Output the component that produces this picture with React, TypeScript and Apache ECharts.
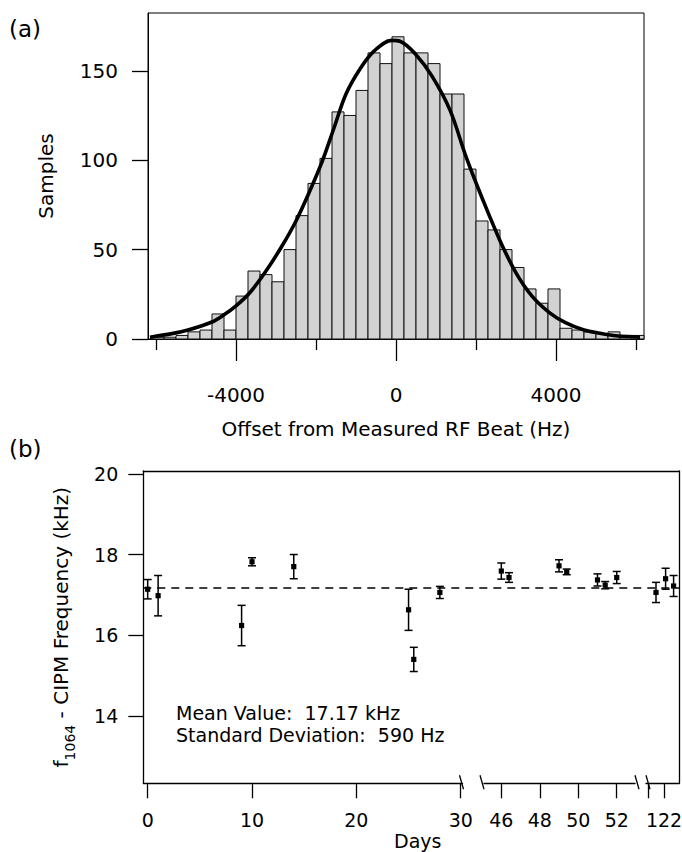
import React, { useEffect, useRef } from 'react';
import * as echarts from 'echarts';

// ---------- Panel (a): histogram ----------
const histCenters = [
  -5950, -5650, -5350, -5050, -4750, -4450, -4150, -3850, -3550, -3250, -2950,
  -2650, -2350, -2050, -1750, -1450, -1150, -850, -550, -250, 50, 350, 650, 950,
  1250, 1550, 1850, 2150, 2450, 2750, 3050, 3350, 3650, 3950, 4250, 4550, 4850,
  5150, 5450, 5750, 6050,
];
const histCounts = [
  1, 1, 2, 4, 5, 14, 5, 24, 38, 36, 32, 50, 69, 87, 101, 127, 125, 139, 160, 154,
  169, 160, 160, 154, 137, 137, 95, 66, 61, 50, 40, 28, 20, 28, 6, 5, 4, 3, 4, 2, 2,
];
const BIN_WIDTH = 300;

const fitX = [
  -6150, -5600, -5200, -4600, -4300, -4000, -3650, -3250, -2850, -2500, -2150,
  -1850, -1550, -1250, -900, -550, -100, 100, 500, 900, 1350, 1750, 2150, 2600,
  3000, 3400, 3850, 4250, 4700, 5100, 5500, 6100,
];
const fitY = [
  1.0, 3.0, 5.0, 9.5, 13.5, 18.5, 26, 38, 52, 66, 83, 99, 118, 137, 151, 161,
  167, 166.5, 159, 147, 128, 102, 79, 55, 37, 24, 14.5, 9, 5, 3.2, 1.8, 1.0,
];
const histXMajorTicks = [-4000, 0, 4000];
const histXMinorTicks = [-6000, -2000, 2000, 6000];
const histYTicks = [0, 50, 100, 150];

// ---------- Panel (b): frequency vs days ----------
const days = [0, 1, 9, 10, 14, 25, 25.5, 28, 46, 46.4, 49, 49.4, 51, 51.4, 52, 121.5, 122.1, 122.6];
const freqKHz = [17.14, 16.98, 16.24, 17.82, 17.7, 16.63, 15.4, 17.06, 17.59, 17.43, 17.72, 17.57, 17.37, 17.24, 17.43, 17.06, 17.4, 17.22];
const errKHz = [0.24, 0.5, 0.5, 0.1, 0.3, 0.51, 0.3, 0.15, 0.2, 0.12, 0.15, 0.07, 0.15, 0.09, 0.15, 0.25, 0.26, 0.26];
const MEAN_KHZ = 17.17;
const STD_HZ = 590;
const seg1Ticks = [0, 10, 20, 30];
const seg2Ticks = [46, 48, 50, 52];
const seg3Ticks = [121, 122];
const seg3Labels = [122];
const freqYTicks = [14, 16, 18, 20];

const FONT = 'DejaVu Sans';

export default function App() {
  const ref = useRef<HTMLDivElement>(null);

  useEffect(() => {
    document.body.style.margin = '0';
    const el = ref.current!;
    const chart = echarts.init(el, null, { renderer: 'svg' });

    // layout
    const A = { left: 148, top: 13, width: 496, height: 326 };
    const B = { top: 471, height: 312.3 };
    const B1 = { left: 143.3, width: 319.2 };
    const B2 = { left: 484, width: 151 };
    const B3 = { left: 646, width: 33.3 };
    const B0 = { left: 143.3, width: 536 };
    const axisY = B.top + B.height;
    const yMinB = 12.33, yMaxB = 20.07;

    const black = '#000';
    const plain = (v: number) => String(v);
    const lbl = (size: number, margin: number, extra: any = {}) => ({
      fontFamily: FONT, fontSize: size, color: black, margin, formatter: plain, ...extra,
    });
    const line = (w: number) => ({ show: true, onZero: false, lineStyle: { color: black, width: w } });

    const points = days.map((d, i) => [d, freqKHz[i], errKHz[i]]);
    const seg = (lo: number, hi: number) => points.filter((p) => p[0] >= lo && p[0] <= hi);

    const errRender = (params: any, api: any) => {
      const x = api.value(0), y = api.value(1), e = api.value(2);
      const pc = api.coord([x, y]);
      const ph = api.coord([x, y + e]);
      const pl = api.coord([x, y - e]);
      const cap = 4, s = 2.6;
      const st = { stroke: black, lineWidth: 1.5 };
      return {
        type: 'group',
        children: [
          { type: 'line', shape: { x1: pc[0], y1: ph[1], x2: pc[0], y2: pl[1] }, style: st },
          { type: 'line', shape: { x1: pc[0] - cap, y1: ph[1], x2: pc[0] + cap, y2: ph[1] }, style: st },
          { type: 'line', shape: { x1: pc[0] - cap, y1: pl[1], x2: pc[0] + cap, y2: pl[1] }, style: st },
          { type: 'rect', shape: { x: pc[0] - s, y: pc[1] - s, width: 2 * s, height: 2 * s }, style: { fill: black } },
        ],
      };
    };

    const slash = (x: number) => ({
      type: 'line',
      shape: { x1: x - 2, y1: axisY - 8, x2: x + 2, y2: axisY + 6 },
      style: { stroke: black, lineWidth: 1.3 },
    });

    const hiddenAxisCommon = { axisLine: { show: false, onZero: false }, axisTick: { show: false }, axisLabel: { show: false }, splitLine: { show: false } };

    const option: any = {
      animation: false,
      title: [
        { text: '(a)', left: 9, top: 17, padding: 0, textStyle: { fontFamily: FONT, fontSize: 23, fontWeight: 'normal', color: black } },
        { text: '(b)', left: 9, top: 437, padding: 0, textStyle: { fontFamily: FONT, fontSize: 23, fontWeight: 'normal', color: black } },
        {
          text: `Mean Value:  ${MEAN_KHZ} kHz\nStandard Deviation:  ${STD_HZ} Hz`,
          left: 176, top: 702, padding: 0,
          textStyle: { fontFamily: FONT, fontSize: 19, lineHeight: 22, fontWeight: 'normal', color: black },
        },
        { text: 'Days', left: 394, top: 831, padding: 0, textStyle: { fontFamily: FONT, fontSize: 19, fontWeight: 'normal', color: black } },
      ],
      grid: [
        { ...A, show: true, borderColor: black, borderWidth: 1, backgroundColor: 'transparent', outerBoundsMode: 'none' },
        { left: B1.left, width: B1.width, top: B.top, height: B.height, outerBoundsMode: 'none' },
        { left: B2.left, width: B2.width, top: B.top, height: B.height, outerBoundsMode: 'none' },
        { left: B3.left, width: B3.width, top: B.top, height: B.height, outerBoundsMode: 'none' },
        { left: B0.left, width: B0.width, top: B.top, height: B.height, outerBoundsMode: 'none' },
      ],
      xAxis: [
        {
          gridIndex: 0, type: 'value', min: -6200, max: 6200, position: 'bottom',
          axisLine: line(1),
          axisTick: { show: true, length: 22, customValues: histXMajorTicks, lineStyle: { color: black, width: 1.3 } },
          axisLabel: { show: true, customValues: histXMajorTicks, ...lbl(20, 46) },
          splitLine: { show: false },
          name: 'Offset from Measured RF Beat (Hz)', nameLocation: 'middle', nameGap: 80,
          nameTextStyle: { fontFamily: FONT, fontSize: 20, color: black },
        },
        {
          gridIndex: 0, type: 'value', min: -6200, max: 6200, position: 'bottom', offset: 0,
          axisLine: { show: false, onZero: false },
          axisTick: { show: true, length: 11, customValues: histXMinorTicks, lineStyle: { color: black, width: 1.3 } },
          axisLabel: { show: false }, splitLine: { show: false },
        },
        {
          gridIndex: 1, type: 'value', min: -0.42, max: 30.17, position: 'bottom',
          axisLine: line(1.3),
          axisTick: { show: true, length: 15, customValues: seg1Ticks, lineStyle: { color: black, width: 1.3 } },
          axisLabel: { show: true, customValues: seg1Ticks, ...lbl(19, 27) },
          splitLine: { show: false },
        },
        {
          gridIndex: 2, type: 'value', min: 45.1, max: 52.95, position: 'bottom',
          axisLine: line(1.3),
          axisTick: { show: true, length: 15, customValues: seg2Ticks, lineStyle: { color: black, width: 1.3 } },
          axisLabel: { show: true, customValues: seg2Ticks, ...lbl(19, 27) },
          splitLine: { show: false },
        },
        {
          gridIndex: 3, type: 'value', min: 120.875, max: 122.956, position: 'bottom',
          axisLine: line(1.3),
          axisTick: { show: true, length: 15, customValues: seg3Ticks, lineStyle: { color: black, width: 1.3 } },
          axisLabel: { show: true, customValues: seg3Labels, ...lbl(19, 27) },
          splitLine: { show: false },
        },
        {
          gridIndex: 4, type: 'value', min: 0, max: 1, position: 'top',
          axisLine: line(1.3),
          axisTick: { show: false }, axisLabel: { show: false }, splitLine: { show: false },
        },
      ],
      yAxis: [
        {
          gridIndex: 0, type: 'value', min: 0, max: 182.3, position: 'left',
          axisLine: line(1),
          axisTick: { show: true, length: 16, customValues: histYTicks, lineStyle: { color: black, width: 1.3 } },
          axisLabel: { show: true, customValues: histYTicks, ...lbl(20, 30) },
          splitLine: { show: false },
          name: 'Samples', nameLocation: 'middle', nameGap: 92, nameRotate: 90,
          nameTextStyle: { fontFamily: FONT, fontSize: 20, color: black },
        },
        {
          gridIndex: 1, type: 'value', min: yMinB, max: yMaxB, position: 'left',
          axisLine: line(1.3),
          axisTick: { show: true, length: 15, customValues: freqYTicks, lineStyle: { color: black, width: 1.3 } },
          axisLabel: { show: true, customValues: freqYTicks, ...lbl(19, 25) },
          splitLine: { show: false },
          name: '{m|f}{s|1064}{m| - CIPM Frequency (kHz)}', nameLocation: 'middle', nameGap: 66, nameRotate: 90,
          nameTextStyle: {
            rich: {
              m: { fontFamily: FONT, fontSize: 20, color: black, verticalAlign: 'bottom', padding: [0, 0, 6, 0] },
              s: { fontFamily: FONT, fontSize: 14, color: black, verticalAlign: 'bottom' },
            },
          },
        },
        { gridIndex: 2, type: 'value', min: yMinB, max: yMaxB, ...hiddenAxisCommon },
        { gridIndex: 3, type: 'value', min: yMinB, max: yMaxB, ...hiddenAxisCommon },
        {
          gridIndex: 4, type: 'value', min: yMinB, max: yMaxB, position: 'right',
          axisLine: line(1.3),
          axisTick: { show: false }, axisLabel: { show: false }, splitLine: { show: false },
        },
      ],
      graphic: [slash(B1.left + B1.width - 1), slash(B2.left - 2), slash(B2.left + B2.width + 2), slash(B3.left + 2)],
      series: [
        {
          type: 'custom', xAxisIndex: 0, yAxisIndex: 0, z: 2,
          data: histCenters.map((c, i) => [c, histCounts[i]]),
          encode: { x: 0, y: 1 },
          renderItem: (params: any, api: any) => {
            const c = api.value(0), v = api.value(1);
            const p0 = api.coord([c - BIN_WIDTH / 2, 0]);
            const p1 = api.coord([c + BIN_WIDTH / 2, v]);
            return {
              type: 'rect',
              shape: { x: p0[0], y: p1[1], width: p1[0] - p0[0], height: p0[1] - p1[1] },
              style: { fill: '#d2d2d2', stroke: '#111', lineWidth: 1 },
            };
          },
        },
        {
          type: 'line', xAxisIndex: 0, yAxisIndex: 0, z: 5,
          data: fitX.map((x, i) => [x, fitY[i]]),
          smooth: 0.35, showSymbol: false, symbol: 'none', clip: true,
          lineStyle: { color: black, width: 3.6 },
        },
        {
          type: 'line', xAxisIndex: 5, yAxisIndex: 4, z: 2,
          data: [[0, MEAN_KHZ], [1, MEAN_KHZ]],
          showSymbol: false, symbol: 'none',
          lineStyle: { color: black, width: 1.5, type: [8, 6] },
        },
        { type: 'custom', xAxisIndex: 2, yAxisIndex: 1, z: 4, data: seg(-1, 31), encode: { x: 0, y: 1 }, renderItem: errRender },
        { type: 'custom', xAxisIndex: 3, yAxisIndex: 2, z: 4, data: seg(44, 54), encode: { x: 0, y: 1 }, renderItem: errRender },
        { type: 'custom', xAxisIndex: 4, yAxisIndex: 3, z: 4, data: seg(120, 124), encode: { x: 0, y: 1 }, renderItem: errRender },
      ],
    };

    chart.setOption(option);
    return () => chart.dispose();
  }, []);

  return <div ref={ref} style={{ width: 682, height: 852 }} />;
}
